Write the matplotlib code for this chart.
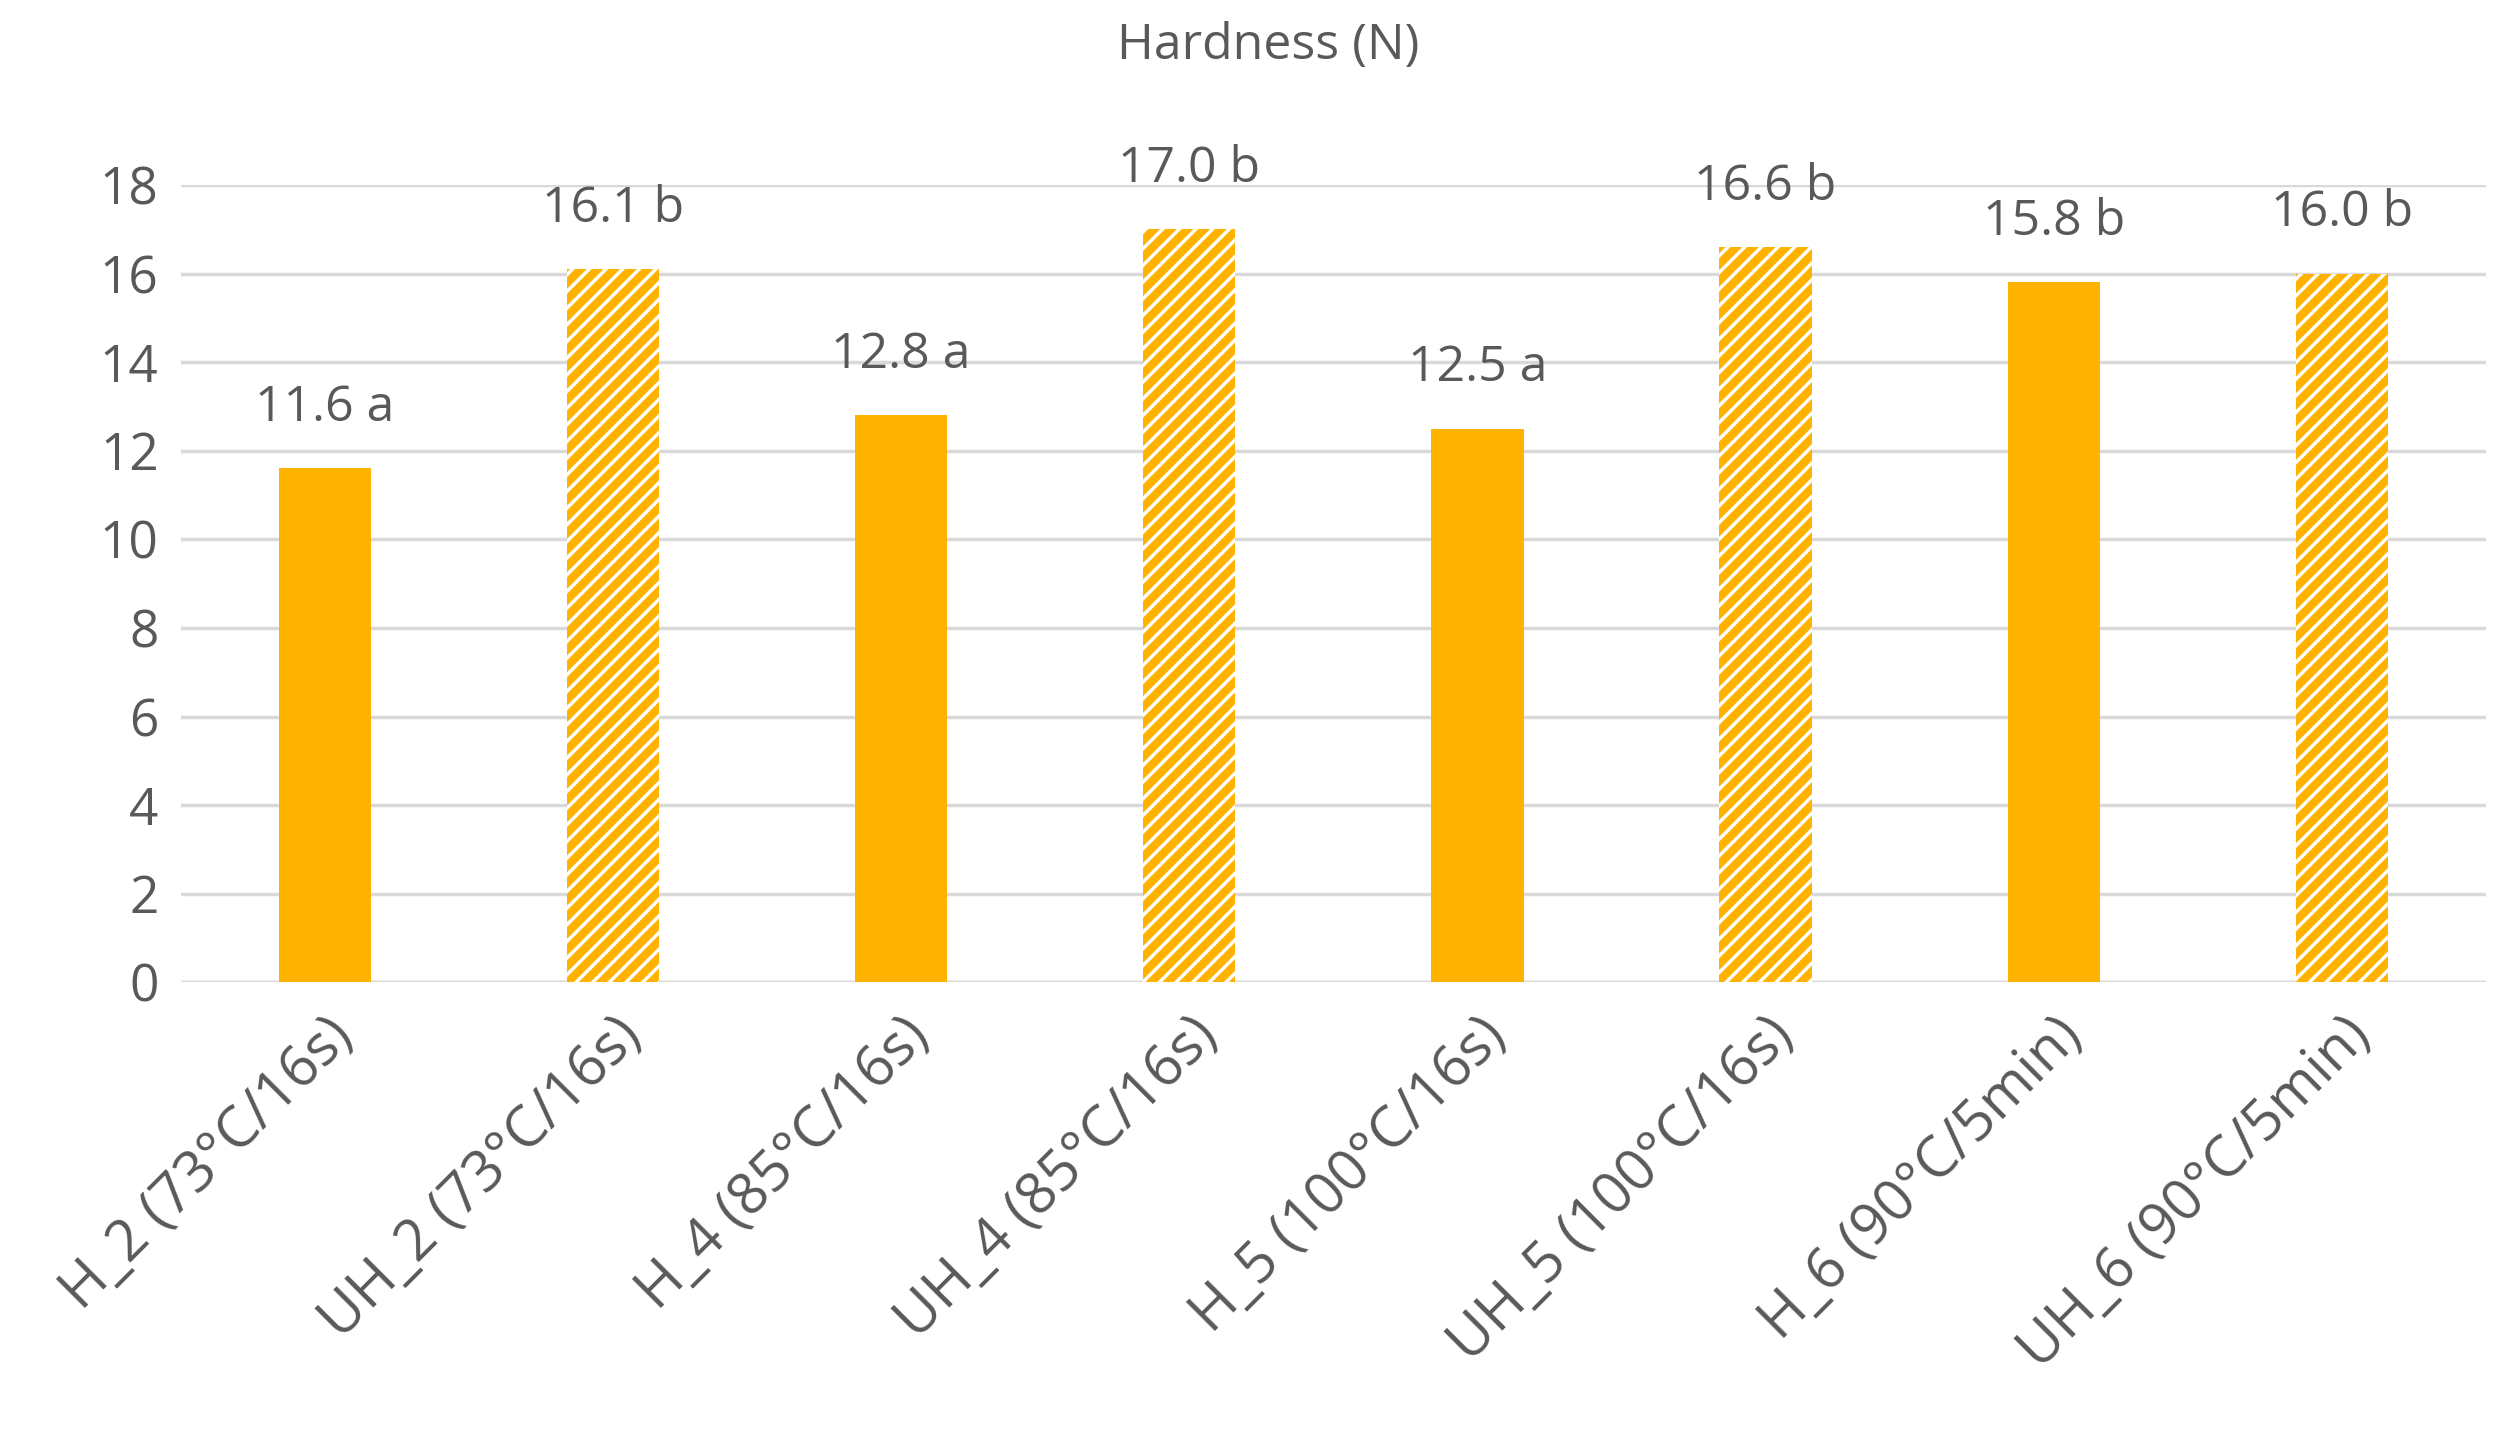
import matplotlib.pyplot as plt

plt.rcParams['font.family'] = ['Open Sans', 'DejaVu Sans']
plt.rcParams['hatch.linewidth'] = 6

categories = ["H_2 (73°C/16s)", "UH_2 (73°C/16s)", "H_4 (85°C/16s)", "UH_4 (85°C/16s)",
              "H_5 (100°C/16s)", "UH_5 (100°C/16s)", "H_6 (90°C/5min)", "UH_6 (90°C/5min)"]
values = [11.6, 16.1, 12.8, 17.0, 12.5, 16.6, 15.8, 16.0]
letters = ["a", "b", "a", "b", "a", "b", "b", "b"]
hatched = [False, True, False, True, False, True, False, True]

orange = "#FFB300"
grey = "#595959"

fig = plt.figure(figsize=(25.11, 14.34), dpi=100)
ax = fig.add_axes([0.072, 0.315, 0.918, 0.556])

for i, (v, h) in enumerate(zip(values, hatched)):
    if h:
        ax.bar(i, v, width=0.32, color="white", edgecolor=orange, hatch="//", linewidth=0, zorder=2)
    else:
        ax.bar(i, v, width=0.32, color=orange, linewidth=0, zorder=2)
    ax.text(i, v + 0.8, f"{v:.1f} {letters[i]}", ha="center", va="bottom", fontsize=36, color=grey)

ax.set_ylim(0, 18)
ax.set_xlim(-0.5, len(values) - 0.5)
ax.set_yticks(range(0, 19, 2))
ax.grid(axis="y", color="#D9D9D9", linewidth=2.5, zorder=0)
ax.set_axisbelow(True)
for s in ax.spines.values():
    s.set_visible(False)
ax.tick_params(axis="y", length=0, labelsize=37, labelcolor=grey, pad=16)
ax.tick_params(axis="x", length=0, labelsize=41, labelcolor=grey, pad=18)
ax.set_xticks(range(len(categories)))
ax.set_xticklabels(categories, rotation=45, ha="right", rotation_mode="anchor")
ax.axhline(0, color="#D9D9D9", linewidth=2.5, zorder=1)
fig.text(0.505, 0.985, "Hardness (N)", ha="center", va="top", fontsize=36, color=grey)

fig.savefig("out.png", dpi=100)
